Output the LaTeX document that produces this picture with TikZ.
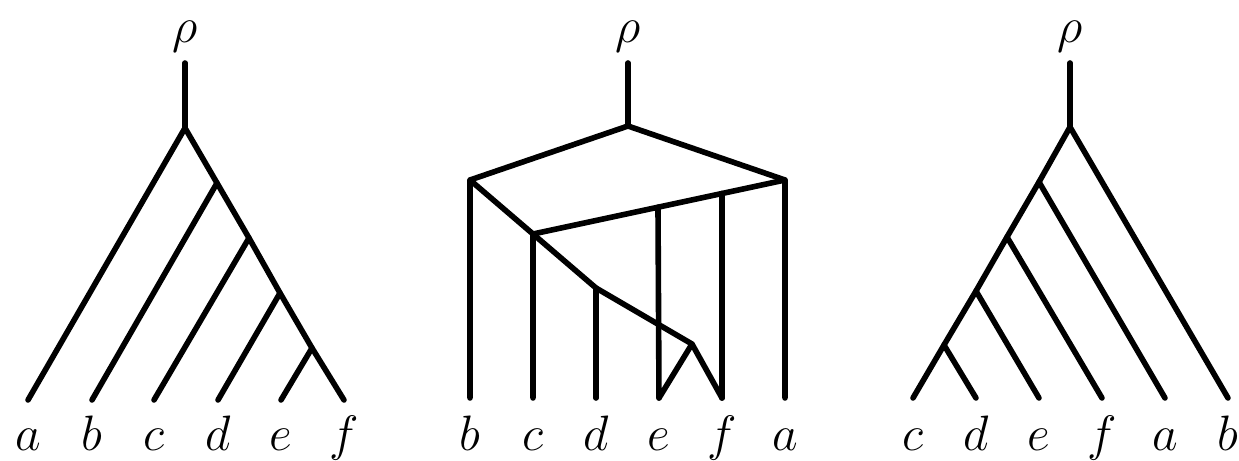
\documentclass[tikz,border=0pt]{standalone}
\usetikzlibrary{calc}
\begin{document}
\begin{tikzpicture}[x=0.5pt,y=-0.5pt,
  edge/.style={line width=2.8pt,line cap=round,line join=round},
  lab/.style={anchor=base,inner sep=0pt,font=\fontsize{28}{30}\selectfont}]
\useasboundingbox (0,0) rectangle (1239,461);
% ---------- left tree ----------
\node[lab] (Lrho) at (185,42) {$\rho$};
\coordinate (Ltop) at (185,63);
\coordinate (Lr) at (185,128);
\coordinate (L1) at (217,183);
\coordinate (L2) at (249,238);
\coordinate (L3) at (280,293);
\coordinate (L4) at (312,348);
\coordinate (La) at (28,400);
\coordinate (Lb) at (92,400);
\coordinate (Lc) at (154,400);
\coordinate (Ld) at (218,400);
\coordinate (Le) at (281,400);
\coordinate (Lf) at (344,400);
\draw[edge] (Ltop) -- (Lr);
\draw[edge] (La) -- (Lr) -- (L1) -- (L2) -- (L3) -- (L4) -- (Lf);
\draw[edge] (Lb) -- (L1);
\draw[edge] (Lc) -- (L2);
\draw[edge] (Ld) -- (L3);
\draw[edge] (Le) -- (L4);
\foreach \n/\x in {a/28,b/92,c/154,d/218,e/281,f/344}
  \node[lab] (Ll\n) at (\x,450) {$\n$};
% ---------- middle tree ----------
\node[lab] (Mrho) at (628,42) {$\rho$};
\coordinate (Mtop) at (628,63);
\coordinate (Mr) at (628,126);
\coordinate (Mbn) at (470,180);
\coordinate (Man) at (785,180);
\coordinate (Mcn) at (533,234);
\coordinate (Mdn) at (596,288);
\coordinate (Mefn) at (692,344);
\coordinate (Mb) at (470,398);
\coordinate (Mc) at (533,398);
\coordinate (Md) at (596,398);
\coordinate (Me) at (659,398);
\coordinate (Mf) at (722,398);
\coordinate (Ma) at (785,398);
\coordinate (Metop) at ($(Man)!0.504!(Mcn)$);
\coordinate (Mftop) at ($(Man)!0.25!(Mcn)$);
\draw[edge] (Mtop) -- (Mr);
\draw[edge] (Mbn) -- (Mr) -- (Man);
\draw[edge] (Mb) -- (Mbn) -- (Mcn) -- (Mdn) -- (Mefn);
\draw[edge] (Ma) -- (Man) -- (Mcn) -- (Mc);
\draw[edge] (Md) -- (Mdn);
\draw[edge] (Me) -- (Mefn) -- (Mf);
\draw[edge] (Me) -- (Metop);
\draw[edge] (Mf) -- (Mftop);
\foreach \n/\x in {b/470,c/533,d/596,e/659,f/722,a/785}
  \node[lab] (Ml\n) at (\x,450) {$\n$};
% ---------- right tree ----------
\node[lab] (Rrho) at (1070,42) {$\rho$};
\coordinate (Rtop) at (1070,63);
\coordinate (Rr) at (1070,127);
\coordinate (R1) at (1039,182);
\coordinate (R2) at (1007,237);
\coordinate (R3) at (976,291);
\coordinate (R4) at (944,345);
\coordinate (Rc) at (913,398);
\coordinate (Rd) at (976,398);
\coordinate (Re) at (1039,398);
\coordinate (Rf) at (1102,398);
\coordinate (Ra) at (1165,398);
\coordinate (Rb) at (1228,398);
\draw[edge] (Rtop) -- (Rr);
\draw[edge] (Rb) -- (Rr) -- (R1) -- (R2) -- (R3) -- (R4) -- (Rc);
\draw[edge] (Rd) -- (R4);
\draw[edge] (Re) -- (R3);
\draw[edge] (Rf) -- (R2);
\draw[edge] (Ra) -- (R1);
\foreach \n/\x in {c/913,d/976,e/1039,f/1102,a/1165,b/1228}
  \node[lab] (Rl\n) at (\x,450) {$\n$};
\end{tikzpicture}
\end{document}
